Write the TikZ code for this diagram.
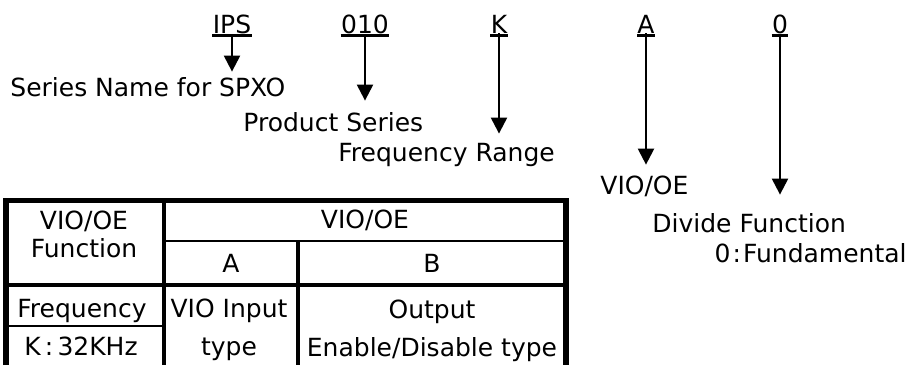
\documentclass[tikz,border=0pt]{standalone}
\usepackage{fontspec}
\setmainfont{DejaVu Sans}
\usetikzlibrary{arrows.meta}
\begin{document}
\begin{tikzpicture}[
 x=.5pt,y=-.5pt,
 code/.style={inner sep=0pt,anchor=base},
 lbl/.style={inner sep=0pt,anchor=base west},
 cell/.style={inner sep=0pt,align=center},
 uline/.style={line width=1.6pt},
 arr/.style={line width=1.1pt,-{Triangle[length=8pt,width=8pt]}},
 frame/.style={line width=2.6pt},
 rulebold/.style={line width=2.2pt},
 rulethin/.style={line width=1pt},
 every node/.style={font=\fontsize{12.5}{14}\selectfont}]
 \useasboundingbox (0,0) rectangle (911,365);
 % Part number, one code per field.
 \node[code] (ips) at (232,33) {IPS};
 \node[code] (ser) at (365,33) {010};
 \node[code] (frq) at (499,33) {K};
 \node[code] (vio) at (646,33) {A};
 \node[code] (div) at (780,33) {0};
 \foreach \c in {ips,ser,frq,vio,div}
  \draw[uline] ([yshift=-1.2pt]\c.base west) -- ([yshift=-1.2pt]\c.base east);
 % What each field means.
 \node[lbl] (sname) at (10,96) {Series Name for SPXO};
 \node[lbl] (pser) at (243,131) {Product Series};
 \node[lbl] (frange) at (338,161) {Frequency Range};
 \node[lbl] (vioe) at (600,194) {VIO/OE};
 \node[lbl] (divf) at (652,232) {Divide Function};
 \node[inner sep=0pt,anchor=base east] (fund) at (907,262) {0\kern1pt:\kern1pt Fundamental};
 \draw[arr,shorten >=2.5pt] (ips.south) -- (ips.south |- sname.north);
 \draw[arr,shorten >=5.5pt] (ser.south) -- (ser.south |- pser.north);
 \draw[arr,shorten >=4.4pt] (frq.south) -- (frq.south |- frange.north);
 \draw[arr,shorten >=5.2pt] (vio.south) -- (vio.south |- vioe.north);
 \draw[arr,shorten >=9pt] (div.south) -- (div.south |- divf.north);
 % VIO/OE table, cut off at the bottom.
 \draw[frame] (6,365) |- (566,200.5) -- (566,365);
 \draw[rulebold] (164,200.5) -- (164,365);
 \draw[rulebold] (6,285) -- (566,285);
 \draw[rulebold] (298,241) -- (298,365);
 \draw[rulethin] (164,241) -- (566,241);
 \draw[rulethin] (6,326) -- (164,326);
 \node[cell] (hdfun) at (84,234.5) {VIO/OE\\Function};
 \node[cell] (hdvio) at (365,220.5) {VIO/OE};
 \node[cell] (hda) at (231,263) {A};
 \node[cell] (hdb) at (432,263) {B};
 \node[cell] (freq) at (82,310.5) {Frequency};
 \node[cell] (kval) at (81,346) {K\,:\,32KHz};
 \node[cell] (vioin) at (229,329.5) {VIO Input\\[5pt]type};
 \node[cell] (outen) at (432,331) {Output\\[5pt]Enable/Disable type};
\end{tikzpicture}
\end{document}
